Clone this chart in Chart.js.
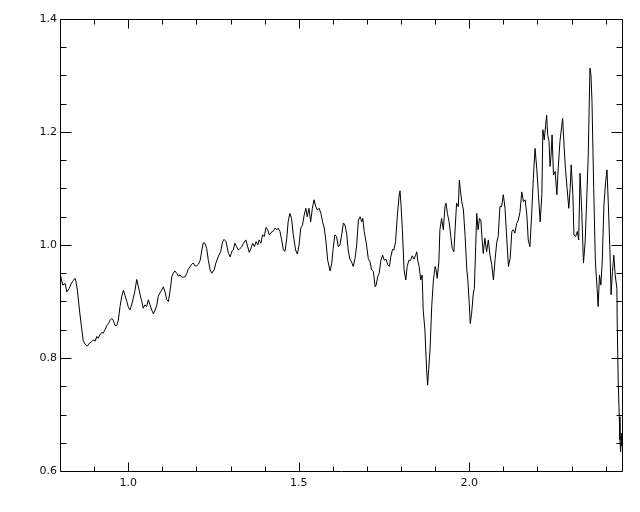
<!DOCTYPE html>
<html>
<head>
<meta charset="utf-8">
<script src="https://cdn.jsdelivr.net/npm/chart.js@4.4.0/dist/chart.umd.min.js"></script>
<style>
html, body { margin: 0; padding: 0; background: #fff; }
#wrap { width: 640px; height: 512px; }
</style>
</head>
<body>
<div id="wrap"><canvas id="spec" width="640" height="512"></canvas></div>
<script>
// Panjang gelombang (sumbu x)
var wl = [
  0.800,0.808,0.815,0.820,0.827,0.834,0.839,0.844,0.847,0.851,
  0.857,0.864,0.868,0.873,0.880,0.886,0.893,0.898,0.903,0.908,
  0.912,0.917,0.922,0.927,0.932,0.937,0.942,0.947,0.952,0.956,
  0.961,0.966,0.971,0.976,0.981,0.986,0.991,0.996,1.000,1.005,
  1.010,1.015,1.020,1.025,1.030,1.035,1.040,1.044,1.049,1.054,
  1.059,1.064,1.069,1.074,1.079,1.084,1.088,1.093,1.098,1.103,
  1.108,1.113,1.118,1.123,1.128,1.132,1.137,1.142,1.147,1.152,
  1.157,1.162,1.167,1.172,1.176,1.181,1.186,1.191,1.196,1.201,
  1.206,1.211,1.216,1.220,1.225,1.230,1.235,1.240,1.245,1.252,
  1.257,1.264,1.271,1.277,1.281,1.287,1.294,1.299,1.304,1.308,
  1.313,1.318,1.323,1.328,1.333,1.338,1.345,1.349,1.355,1.360,
  1.365,1.370,1.375,1.380,1.384,1.389,1.394,1.399,1.404,1.409,
  1.414,1.419,1.426,1.431,1.436,1.440,1.445,1.450,1.455,1.460,
  1.465,1.469,1.474,1.479,1.484,1.491,1.496,1.501,1.506,1.511,
  1.516,1.521,1.525,1.530,1.535,1.540,1.545,1.550,1.555,1.560,
  1.565,1.570,1.575,1.580,1.585,1.592,1.597,1.601,1.606,1.611,
  1.616,1.621,1.626,1.631,1.636,1.641,1.645,1.650,1.655,1.660,
  1.665,1.670,1.675,1.680,1.685,1.688,1.692,1.698,1.704,1.709,
  1.714,1.719,1.724,1.727,1.732,1.736,1.741,1.746,1.751,1.756,
  1.761,1.766,1.770,1.775,1.779,1.784,1.789,1.794,1.797,1.800,
  1.804,1.809,1.814,1.818,1.823,1.828,1.833,1.838,1.843,1.846,
  1.849,1.853,1.858,1.862,1.865,1.870,1.875,1.878,1.881,1.885,
  1.890,1.895,1.900,1.903,1.906,1.911,1.914,1.919,1.924,1.929,
  1.932,1.936,1.941,1.946,1.950,1.955,1.959,1.963,1.968,1.971,
  1.974,1.978,1.983,1.988,1.993,1.996,2.000,2.003,2.007,2.012,
  2.015,2.019,2.022,2.026,2.030,2.034,
  2.038,2.041,2.046,2.051,2.056,2.061,2.066,2.071,2.076,2.081,
  2.085,2.090,2.095,2.100,2.105,2.110,2.115,2.120,2.125,2.129,
  2.134,2.139,2.144,2.149,2.154,2.159,2.164,2.169,2.173,2.178,
  2.183,2.188,2.193,2.198,2.203,2.208,2.213,2.216,2.220,2.224,
  2.227,2.230,2.234,2.237,2.240,2.243,2.247,2.252,2.257,2.261,
  2.266,2.271,2.274,2.278,2.282,2.287,2.292,2.296,2.299,2.304,
  2.307,2.312,2.317,2.321,2.325,2.330,2.335,2.340,2.345,2.349,
  2.354,2.357,2.360,2.365,2.370,2.375,2.378,2.382,2.386,2.390,
  2.395,2.400,2.404,2.408,2.413,2.416,2.420,2.424,2.428,2.433,
  2.434,2.437,2.440,2.442,2.444,2.446,2.447
];

// Fluks (sumbu y)
var flux = [
  0.950,0.929,0.932,0.917,0.923,0.933,0.937,0.941,0.935,0.920,
  0.885,0.850,0.831,0.825,0.821,0.826,0.829,0.832,0.830,0.838,
  0.835,0.841,0.845,0.844,0.850,0.857,0.861,0.867,0.870,0.867,
  0.858,0.857,0.867,0.891,0.909,0.920,0.910,0.900,0.891,0.885,
  0.894,0.906,0.920,0.939,0.926,0.912,0.900,0.888,0.894,0.891,
  0.903,0.894,0.885,0.878,0.885,0.894,0.909,0.915,0.920,0.926,
  0.917,0.903,0.900,0.920,0.944,0.950,0.954,0.950,0.945,0.947,
  0.943,0.943,0.944,0.950,0.957,0.961,0.966,0.968,0.963,0.963,
  0.966,0.973,0.991,1.004,1.003,0.994,0.973,0.956,0.950,0.956,
  0.968,0.979,0.988,1.006,1.010,1.006,0.985,0.979,0.989,0.991,
  1.003,0.997,0.991,0.994,0.997,1.003,1.009,1.000,0.987,0.994,
  1.003,0.997,1.006,1.000,1.009,1.003,1.018,1.015,1.031,1.027,
  1.018,1.022,1.025,1.030,1.027,1.030,1.024,1.009,0.991,0.989,
  1.012,1.041,1.056,1.047,1.018,0.991,0.984,1.000,1.030,1.035,
  1.053,1.065,1.050,1.065,1.041,1.065,1.080,1.068,1.062,1.065,
  1.056,1.041,1.030,1.006,0.973,0.954,0.968,0.994,1.018,1.015,
  0.997,1.000,1.018,1.039,1.035,1.018,0.991,0.975,0.970,0.962,
  0.976,1.000,1.044,1.050,1.041,1.047,1.024,1.004,0.976,0.970,
  0.956,0.953,0.926,0.929,0.945,0.950,0.973,0.982,0.973,0.975,
  0.965,0.962,0.979,0.992,0.991,1.006,1.050,1.085,1.096,1.071,
  1.027,0.956,0.938,0.962,0.973,0.973,0.981,0.975,0.982,0.988,
  0.973,0.962,0.938,0.947,0.885,0.850,0.779,0.752,0.779,0.814,
  0.891,0.938,0.962,0.956,0.941,0.970,1.027,1.047,1.027,1.068,
  1.074,1.056,1.041,1.015,0.994,0.988,1.032,1.074,1.068,1.115,
  1.097,1.077,1.062,1.015,0.956,0.938,0.897,0.861,0.879,0.915,
  0.923,0.997,1.056,1.027,1.047,1.044,
  1.009,0.985,1.012,0.988,1.009,0.982,0.965,0.938,0.976,1.006,
  1.015,1.068,1.068,1.089,1.065,1.012,0.962,0.976,1.024,1.027,
  1.021,1.038,1.044,1.059,1.094,1.077,1.080,1.053,1.009,0.997,
  1.053,1.118,1.171,1.136,1.089,1.041,1.089,1.204,1.186,1.212,
  1.230,1.195,1.183,1.139,1.159,1.195,1.124,1.130,1.089,1.136,
  1.183,1.209,1.224,1.177,1.136,1.100,1.065,1.100,1.142,1.089,
  1.018,1.015,1.024,1.009,1.127,1.059,0.968,1.006,1.089,1.159,
  1.313,1.301,1.254,1.100,0.970,0.923,0.891,0.947,0.929,0.970,
  1.071,1.112,1.133,1.071,0.982,0.912,0.953,0.982,0.947,0.923,
  0.862,0.756,0.696,0.655,0.634,0.667,0.645
];

// Label tick dan tick kecil
var xTickLabels = [1.0, 1.5, 2.0];
var yTickLabels = [0.6, 0.8, 1.0, 1.2, 1.4];
var xMinorTicks = [0.8, 0.9, 1.1, 1.2, 1.3, 1.4, 1.6, 1.7, 1.8, 1.9, 2.1, 2.2, 2.3, 2.4];
var yMinorTicks = [0.65, 0.7, 0.75, 0.85, 0.9, 0.95, 1.05, 1.1, 1.15, 1.25, 1.3, 1.35];

var points = wl.map(function (x, i) { return { x: x, y: flux[i] }; });

// Kotak plot dengan tick menghadap ke dalam (gaya IDL)
var boxTicks = {
  id: 'boxTicks',
  afterDraw: function (chart) {
    var a = chart.chartArea, ctx = chart.ctx;
    var xs = chart.scales.x, ys = chart.scales.y;
    var L = Math.round(a.left) + 0.5, R = Math.round(a.right) + 0.5;
    var T = Math.round(a.top) + 0.5, B = Math.round(a.bottom) + 0.5;
    ctx.save();
    ctx.strokeStyle = '#000';
    ctx.lineWidth = 1;
    ctx.beginPath();
    ctx.rect(L, T, R - L, B - T);

    function xTick(v, len) {
      var p = Math.round(xs.getPixelForValue(v)) + 0.5;
      ctx.moveTo(p, B); ctx.lineTo(p, B - len);
      ctx.moveTo(p, T); ctx.lineTo(p, T + len);
    }
    function yTick(v, len) {
      var p = Math.round(ys.getPixelForValue(v)) + 0.5;
      ctx.moveTo(L, p); ctx.lineTo(L + len, p);
      ctx.moveTo(R, p); ctx.lineTo(R - len, p);
    }
    xTickLabels.forEach(function (v) { xTick(v, 9); });
    xMinorTicks.forEach(function (v) { xTick(v, 5); });
    yTickLabels.forEach(function (v) { yTick(v, 11); });
    yMinorTicks.forEach(function (v) { yTick(v, 6); });
    ctx.stroke();
    ctx.restore();
  }
};

var tickFont = { family: 'DejaVu Sans', size: 11 };

var ctx = document.getElementById('spec').getContext('2d');
var specChart = new Chart(ctx, {
  type: 'line',
  data: {
    datasets: [{
      data: points,
      borderColor: '#000',
      borderWidth: 1,
      pointRadius: 0,
      tension: 0,
      fill: false
    }]
  },
  options: {
    responsive: false,
    animation: false,
    layout: { padding: { top: 19, right: 18, left: 0, bottom: 0 } },
    plugins: {
      legend: { display: false },
      tooltip: { enabled: false }
    },
    scales: {
      x: {
        type: 'linear',
        min: 0.8,
        max: 2.448,
        grid: { display: false, drawTicks: false },
        border: { display: false },
        afterBuildTicks: function (s) {
          s.ticks = xTickLabels.map(function (v) { return { value: v }; });
        },
        afterFit: function (s) { s.height = 41; },
        ticks: {
          autoSkip: false,
          maxRotation: 0,
          padding: 6,
          color: '#111',
          font: tickFont,
          callback: function (v) { return Number(v).toFixed(1); }
        }
      },
      y: {
        type: 'linear',
        min: 0.6,
        max: 1.4,
        grid: { display: false, drawTicks: false },
        border: { display: false },
        afterBuildTicks: function (s) {
          s.ticks = yTickLabels.map(function (v) { return { value: v }; });
        },
        afterFit: function (s) { s.width = 60; },
        ticks: {
          autoSkip: false,
          padding: 3,
          color: '#111',
          font: tickFont,
          callback: function (v) { return Number(v).toFixed(1); }
        }
      }
    }
  },
  plugins: [boxTicks]
});
</script>
</body>
</html>
